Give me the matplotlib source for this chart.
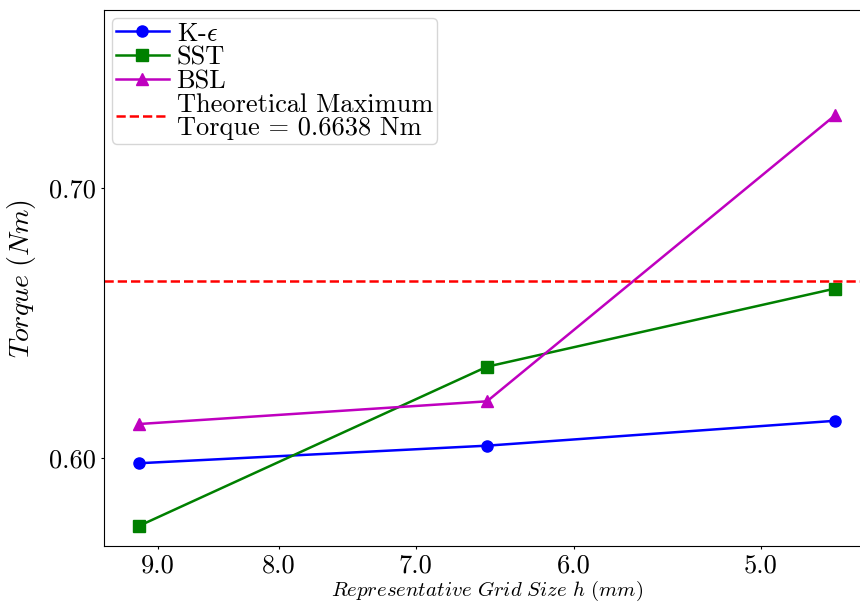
import matplotlib
matplotlib.use("Agg")
import matplotlib.pyplot as plt
from matplotlib.ticker import FixedLocator, NullLocator, FixedFormatter

# grid sizes (mm) and torque (Nm)
h = [9.17, 6.53, 4.65]
torque_ke = [0.5981, 0.6046, 0.6138]
torque_sst = [0.5749, 0.6338, 0.6627]
torque_bsl = [0.6126, 0.6210, 0.7268]
torque_max = 0.6655

xticks = [9.0, 8.0, 7.0, 6.0, 5.0]
xtick_labels = ["9.0", "8.0", "7.0", "6.0", "5.0"]
yticks = [0.60, 0.70]
ytick_labels = ["0.60", "0.70"]

plt.rcParams['font.family'] = 'serif'
plt.rcParams['font.serif'] = ['cmr10']
plt.rcParams['mathtext.fontset'] = 'cm'
plt.rcParams['axes.unicode_minus'] = False

fig = plt.figure(figsize=(8.6, 6.07), dpi=100)
ax = fig.add_axes([104/860, 61/607, 766/860, 536/607])

ax.plot(h, torque_ke, 'b-o', lw=1.8, ms=8, label=r'K-$\epsilon$')
ax.plot(h, torque_sst, 'g-s', lw=1.8, ms=8, label='SST')
ax.plot(h, torque_bsl, 'm-^', lw=1.8, ms=8, label='BSL')
ax.axhline(torque_max, color='r', ls='--', lw=1.8,
           label='Theoretical Maximum\nTorque = 0.6638 Nm')

ax.set_xscale('log')
ax.invert_xaxis()
ax.xaxis.set_major_locator(FixedLocator(xticks))
ax.xaxis.set_major_formatter(FixedFormatter(xtick_labels))
ax.xaxis.set_minor_locator(NullLocator())
ax.set_yticks(yticks)
ax.set_yticklabels(ytick_labels)
ax.set_ylim(0.5675, 0.7657)
ax.tick_params(labelsize=19, length=2.5, pad=3)

ax.set_xlabel(r'$\mathit{Representative\ Grid\ Size\ h\ (mm)}$', fontsize=15, labelpad=1)
ax.set_ylabel(r'$\mathit{Torque\ (Nm)}$', fontsize=20, labelpad=8)

leg = ax.legend(loc='upper left', fontsize=19, labelspacing=0.0, handlelength=2.0,
                handletextpad=0.3, borderpad=0.15, borderaxespad=0.3)
leg.get_texts()[3].set_linespacing(0.95)

fig.savefig("out.png", dpi=100)
